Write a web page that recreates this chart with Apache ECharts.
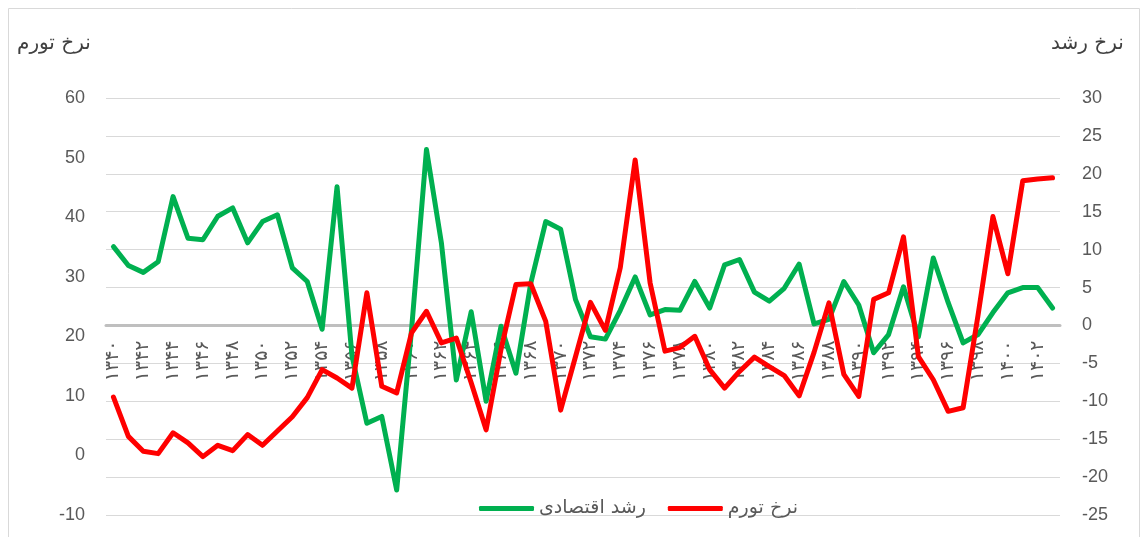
<!DOCTYPE html>
<html>
<head>
<meta charset="utf-8">
<script src="https://cdn.jsdelivr.net/npm/echarts@6/dist/echarts.min.js"></script>
<style>
html,body{margin:0;padding:0;background:#fff;}
#c{width:1147px;height:537px;}
</style>
</head>
<body>
<div id="c"></div>
<script>
// Years 1340..1403 (Persian digits)
var years = ['۱۳۴۰','۱۳۴۱','۱۳۴۲','۱۳۴۳','۱۳۴۴','۱۳۴۵','۱۳۴۶','۱۳۴۷','۱۳۴۸','۱۳۴۹',
  '۱۳۵۰','۱۳۵۱','۱۳۵۲','۱۳۵۳','۱۳۵۴','۱۳۵۵','۱۳۵۶','۱۳۵۷','۱۳۵۸','۱۳۵۹',
  '۱۳۶۰','۱۳۶۱','۱۳۶۲','۱۳۶۳','۱۳۶۴','۱۳۶۵','۱۳۶۶','۱۳۶۷','۱۳۶۸','۱۳۶۹',
  '۱۳۷۰','۱۳۷۱','۱۳۷۲','۱۳۷۳','۱۳۷۴','۱۳۷۵','۱۳۷۶','۱۳۷۷','۱۳۷۸','۱۳۷۹',
  '۱۳۸۰','۱۳۸۱','۱۳۸۲','۱۳۸۳','۱۳۸۴','۱۳۸۵','۱۳۸۶','۱۳۸۷','۱۳۸۸','۱۳۸۹',
  '۱۳۹۰','۱۳۹۱','۱۳۹۲','۱۳۹۳','۱۳۹۴','۱۳۹۵','۱۳۹۶','۱۳۹۷','۱۳۹۸','۱۳۹۹',
  '۱۴۰۰','۱۴۰۱','۱۴۰۲','۱۴۰۳'];

// Economic growth (right axis, %)
var growth = [10.4, 7.9, 7.0, 8.4, 17.0, 11.5, 11.3, 14.4, 15.5, 10.9,
  13.7, 14.6, 7.6, 5.8, -0.5, 18.3, -4.0, -12.9, -12.0, -21.7,
  -0.5, 23.2, 10.9, -7.2, 1.8, -10.0, -0.1, -6.3, 5.6, 13.7,
  12.7, 3.4, -1.5, -1.8, 2.0, 6.4, 1.4, 2.1, 2.0, 5.8,
  2.3, 8.0, 8.7, 4.4, 3.2, 4.9, 8.1, 0.2, 0.8, 5.8,
  2.7, -3.6, -1.2, 5.1, -1.5, 8.9, 3.0, -2.3, -1.2, 1.7,
  4.3, 5.0, 5.0, 2.3];

// Inflation rate (left axis, %)
var inflation = [9.8, 3.2, 0.7, 0.3, 3.8, 2.1, -0.2, 1.7, 0.8, 3.5,
  1.7, 4.1, 6.5, 9.7, 14.4, 13.0, 11.3, 27.3, 11.6, 10.5,
  20.6, 24.2, 18.9, 19.7, 12.2, 4.3, 17.8, 28.7, 28.8, 22.5,
  7.6, 16.6, 25.7, 21.0, 31.5, 49.6, 29.0, 17.5, 18.1, 20.0,
  14.4, 11.3, 14.1, 16.5, 14.9, 13.4, 10.0, 17.3, 25.6, 13.6,
  9.9, 26.2, 27.3, 36.7, 16.6, 12.7, 7.4, 8.0, 23.5, 40.1,
  30.5, 46.1, 46.4, 46.6];

var seriesNames = ['رشد اقتصادی', 'نرخ تورم'];
var leftTitle = 'نرخ تورم';
var rightTitle = 'نرخ رشد';

var growthMin = -25, growthMax = 30;
var gridTop = 98, gridBottom = 22, H = 537;
var plotH = H - gridTop - gridBottom;
// move the category axis up to the zero of the right axis
var xOffset = -plotH * (0 - growthMin) / (growthMax - growthMin);

var chart = echarts.init(document.getElementById('c'));
var txt = '#595959';
chart.setOption({
  animation: false,
  textStyle: {fontFamily: 'Liberation Sans, DejaVu Sans, sans-serif'},
  grid: {left: 106, right: 87, top: gridTop, bottom: gridBottom, containLabel: false, outerBoundsMode: 'none'},
  graphic: [
    {type: 'rect', shape: {x: 8.5, y: 8.5, width: 1131, height: 600}, style: {fill: 'none', stroke: '#d9d9d9', lineWidth: 1}, silent: true, z: -10},
    {type: 'text', left: 17, top: 34, style: {text: leftTitle, fill: '#404040', font: '20px "DejaVu Sans", sans-serif'}},
    {type: 'text', left: 1051, top: 34, style: {text: rightTitle, fill: '#404040', font: '20px "DejaVu Sans", sans-serif'}}
  ],
  legend: {
    data: seriesNames,
    top: 494,
    left: 474,
    itemWidth: 55,
    itemHeight: 5,
    itemGap: 22,
    icon: 'roundRect',
    textStyle: {color: txt, fontSize: 19, fontFamily: 'DejaVu Sans, sans-serif'}
  },
  xAxis: {
    type: 'category',
    data: years,
    boundaryGap: true,
    position: 'bottom',
    offset: xOffset,
    axisLine: {onZero: false, lineStyle: {color: '#bfbfbf', width: 3}},
    axisTick: {show: false},
    axisLabel: {interval: 1, rotate: 90, margin: 15, color: txt, fontSize: 19, fontFamily: 'DejaVu Sans, sans-serif'},
    splitLine: {show: false}
  },
  yAxis: [
    {
      type: 'value', min: -10, max: 60, interval: 10, position: 'left',
      axisLine: {show: false}, axisTick: {show: false}, splitLine: {show: false},
      axisLabel: {color: txt, fontSize: 18, margin: 21}
    },
    {
      type: 'value', min: growthMin, max: growthMax, interval: 5, position: 'right',
      axisLine: {show: false}, axisTick: {show: false},
      splitLine: {show: true, lineStyle: {color: '#d9d9d9', width: 1}},
      axisLabel: {color: txt, fontSize: 18, margin: 22}
    }
  ],
  series: [
    {name: seriesNames[0], type: 'line', yAxisIndex: 1, data: growth, symbol: 'none',
      lineStyle: {color: '#00b050', width: 5, cap: 'round', join: 'round'}, itemStyle: {color: '#00b050'}},
    {name: seriesNames[1], type: 'line', yAxisIndex: 0, data: inflation, symbol: 'none',
      lineStyle: {color: '#ff0000', width: 5, cap: 'round', join: 'round'}, itemStyle: {color: '#ff0000'}}
  ]
});
</script>
</body>
</html>
